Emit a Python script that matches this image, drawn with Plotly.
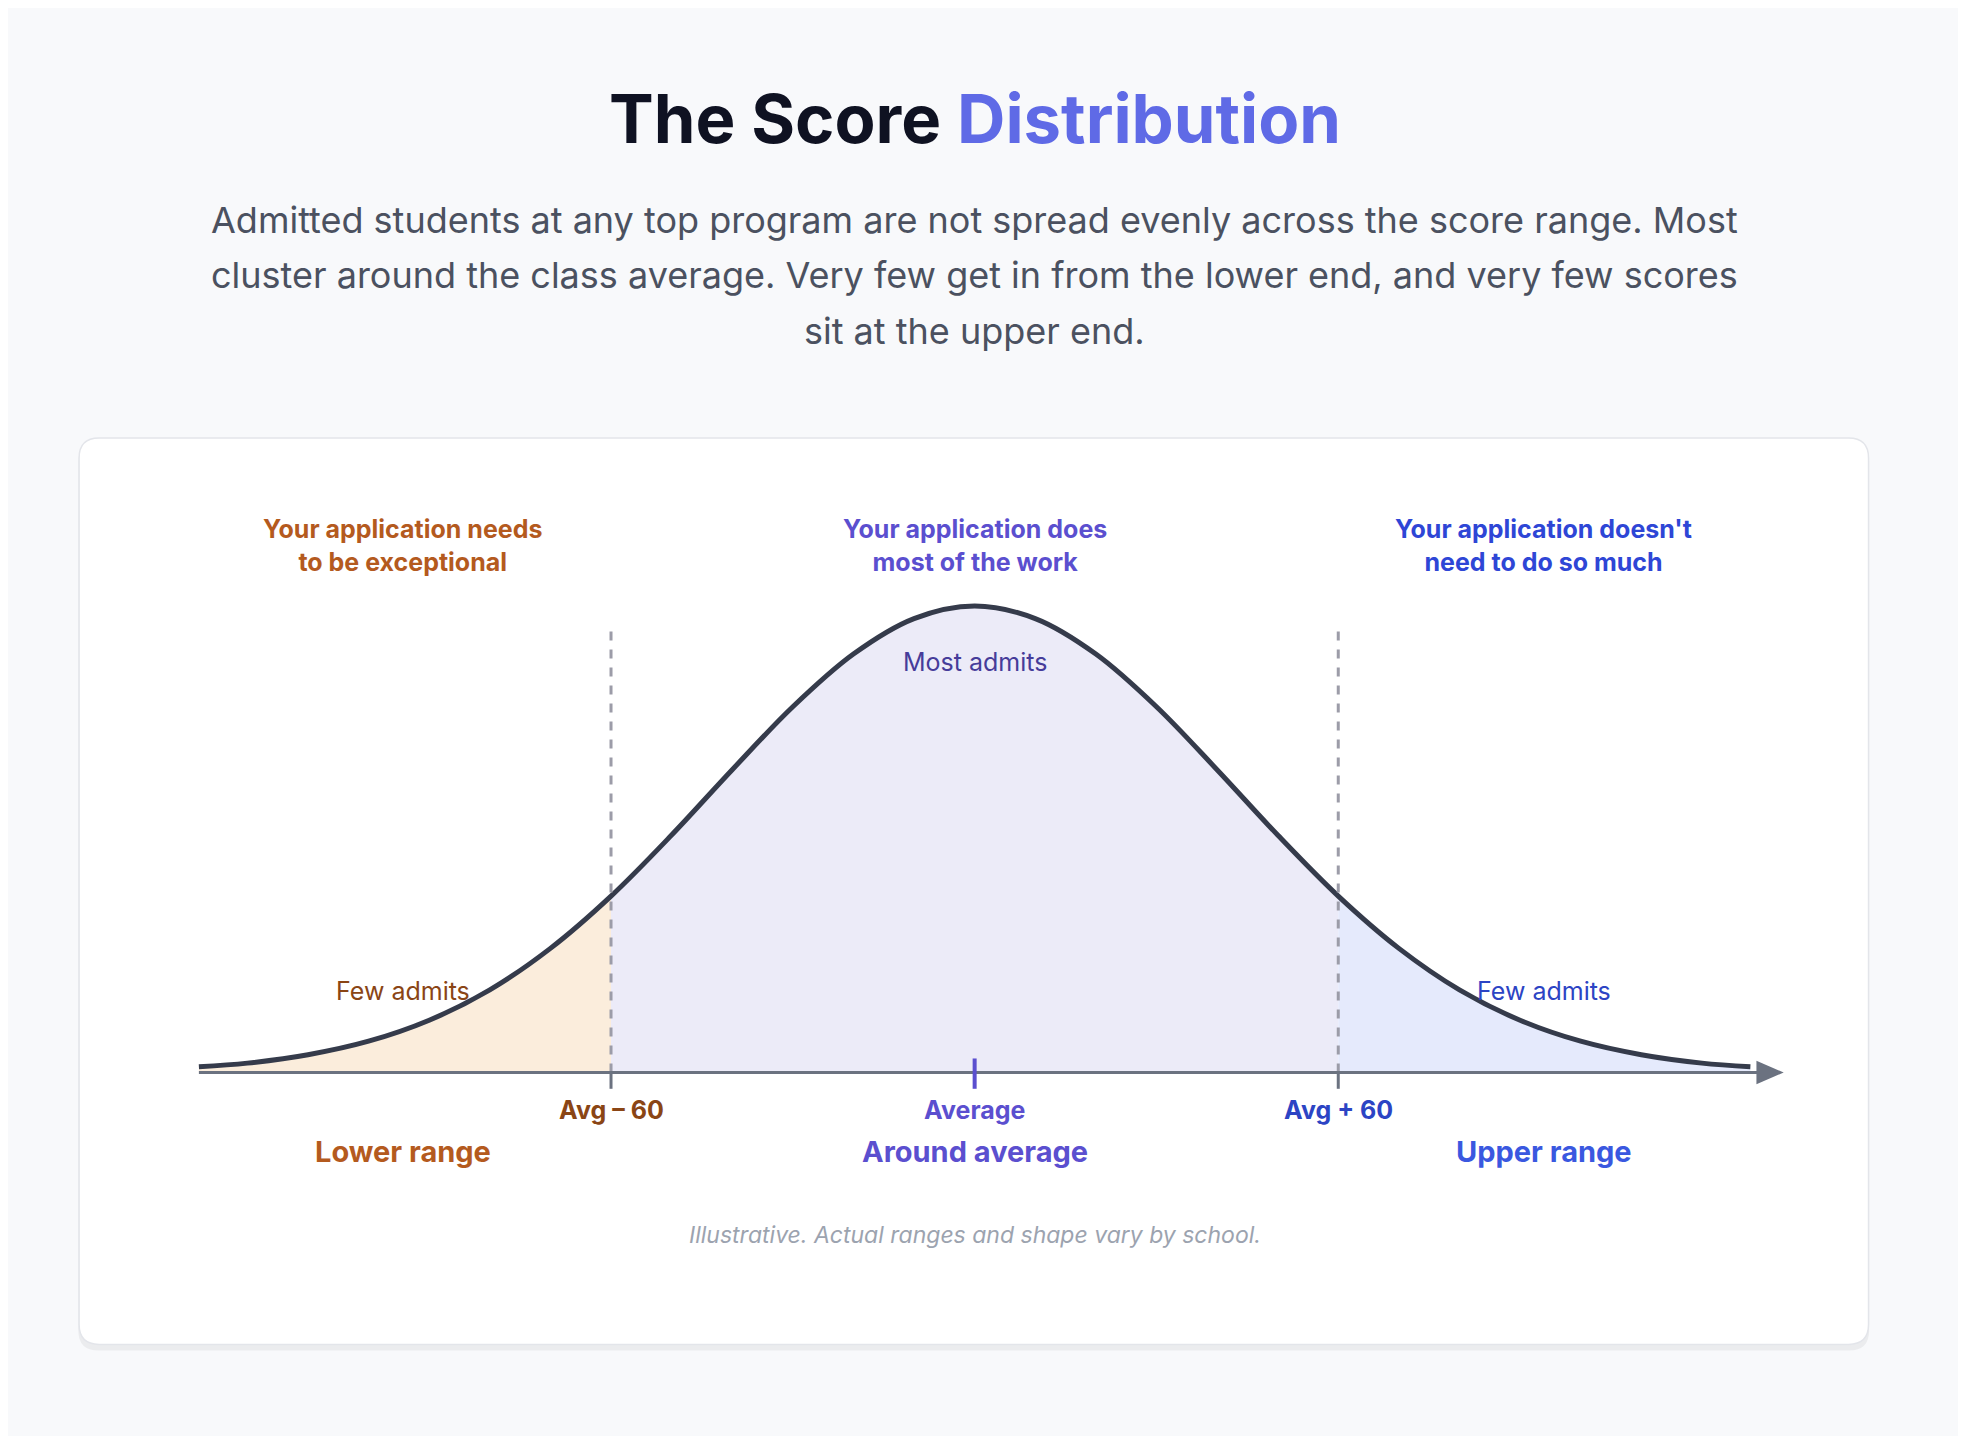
import plotly.graph_objects as go

# score offsets from class average, and relative share of admits
score_offset = [-128, -120, -110, -100, -90, -80, -70, -60, -50, -40, -30, -20, -10, 0,
                10, 20, 30, 40, 50, 60, 70, 80, 90, 100, 110, 120, 128]
admit_share = [0.012, 0.020, 0.038, 0.067, 0.112, 0.177, 0.266, 0.378, 0.509, 0.649, 0.784, 0.897, 0.973, 1.0,
               0.973, 0.897, 0.784, 0.649, 0.509, 0.378, 0.266, 0.177, 0.112, 0.067, 0.038, 0.020, 0.012]
cut_low, cut_high = -60, 60
tick_labels = ["Avg – 60", "Average", "Avg + 60"]
range_labels = ["Lower range", "Around average", "Upper range"]
headline = ["Your application needs<br>to be exceptional", "Your application does<br>most of the work",
            "Your application doesn't<br>need to do so much"]

ORANGE, PURPLE, BLUE = "#b45a1e", "#5b4fcf", "#3050dc"
DARK_OR, DARK_BL = "#8a4515", "#2c44c4"
FONT = "Inter"

fig = go.Figure()

def seg(lo, hi):
    xs = [x for x in score_offset if lo <= x <= hi]
    ys = [admit_share[score_offset.index(x)] for x in xs]
    return xs, ys

for (lo, hi), col in [((-999, cut_low), "#fbeddc"), ((cut_low, cut_high), "#ecebf8"), ((cut_high, 999), "#e5eafc")]:
    xs, ys = seg(lo, hi)
    fig.add_trace(go.Scatter(x=xs, y=ys, fill="tozeroy", fillcolor=col, mode="none",
                             line=dict(shape="spline"), hoverinfo="skip"))

fig.add_trace(go.Scatter(x=score_offset, y=admit_share, mode="lines",
                         line=dict(color="#353b4b", width=5, shape="spline"), hoverinfo="skip"))

X0, X1 = -159.5, 164.9
Y0, Y1 = -0.7965, 2.282
shapes = []
def rrect(x0, y0, x1, y1, rx=3.3, ry=0.043):
    return (f"M {x0+rx},{y0} L {x1-rx},{y0} Q {x1},{y0} {x1},{y0+ry} L {x1},{y1-ry} Q {x1},{y1} {x1-rx},{y1} "
            f"L {x0+rx},{y1} Q {x0},{y1} {x0},{y1-ry} L {x0},{y0+ry} Q {x0},{y0} {x0+rx},{y0} Z")
shapes.append(dict(type="path", path=rrect(-147.9, -0.596, 147.6, 1.352), fillcolor="rgba(0,0,0,0.05)",
                   line=dict(width=0), layer="below"))
shapes.append(dict(type="path", path=rrect(-147.77, -0.583, 147.5, 1.36), fillcolor="white",
                   line=dict(color="#e3e5ea", width=1.5), layer="below"))
for c in (cut_low, cut_high):
    shapes.append(dict(type="line", x0=c, x1=c, y0=0, y1=0.957, line=dict(color="#9c9ca8", width=3, dash="dash")))
    shapes.append(dict(type="line", x0=c, x1=c, y0=-0.035, y1=0.0, line=dict(color="#6b7280", width=3)))
shapes.append(dict(type="line", x0=-128, x1=131, y0=0, y1=0, line=dict(color="#6b7280", width=3)))
shapes.append(dict(type="path", path="M 129,0.025 L 133.5,0 L 129,-0.025 Z", fillcolor="#6b7280", line=dict(width=0)))
shapes.append(dict(type="line", x0=0, x1=0, y0=-0.035, y1=0.03, line=dict(color=PURPLE, width=4)))

ann = []
def A(x, y, t, size, color, bold=False, italic=False):
    if bold: t = f"<b>{t}</b>"
    if italic: t = f"<i>{t}</i>"
    ann.append(dict(x=x, y=y, xref="x", yref="y", text=t, showarrow=False,
                    font=dict(family=FONT, size=size, color=color), xanchor="center", yanchor="middle"))

A(0, 2.046, "The Score <span style='color:#5f6ae6'>Distribution</span>", 67, "#0f1222", bold=True)
for y, t in zip([1.828, 1.710, 1.589], [
        "Admitted students at any top program are not spread evenly across the score range. Most",
        "cluster around the class average. Very few get in from the lower end, and very few scores",
        "sit at the upper end."]):
    A(0, y, t, 36, "#4b5160")
for x, t, c in zip([-94.4, 0, 93.9], headline, [ORANGE, PURPLE, "#2e46d6"]):
    A(x, 1.129, t, 25, c, bold=True)
A(0, 0.879, "Most admits", 25, "#463c9a")
A(-94.4, 0.175, "Few admits", 25, DARK_OR)
A(93.9, 0.175, "Few admits", 25, DARK_BL)
for x, t, c in zip([cut_low, 0, cut_high], tick_labels, [DARK_OR, PURPLE, DARK_BL]):
    A(x, -0.081, t, 25, c, bold=True)
for x, t, c in zip([-94.4, 0, 93.9], range_labels, [ORANGE, PURPLE, "#3a58e0"]):
    A(x, -0.169, t, 29, c, bold=True)
A(0, -0.349, "Illustrative. Actual ranges and shape vary by school.", 23, "#9ca3af", italic=True)

fig.update_layout(width=1966, height=1436, margin=dict(l=0, r=0, t=0, b=0),
                  paper_bgcolor="#f8f9fb", plot_bgcolor="rgba(0,0,0,0)", showlegend=False,
                  xaxis=dict(range=[X0, X1], visible=False, fixedrange=True),
                  yaxis=dict(range=[Y0, Y1], visible=False, fixedrange=True),
                  shapes=shapes, annotations=ann)
fig.write_html("out.html")
